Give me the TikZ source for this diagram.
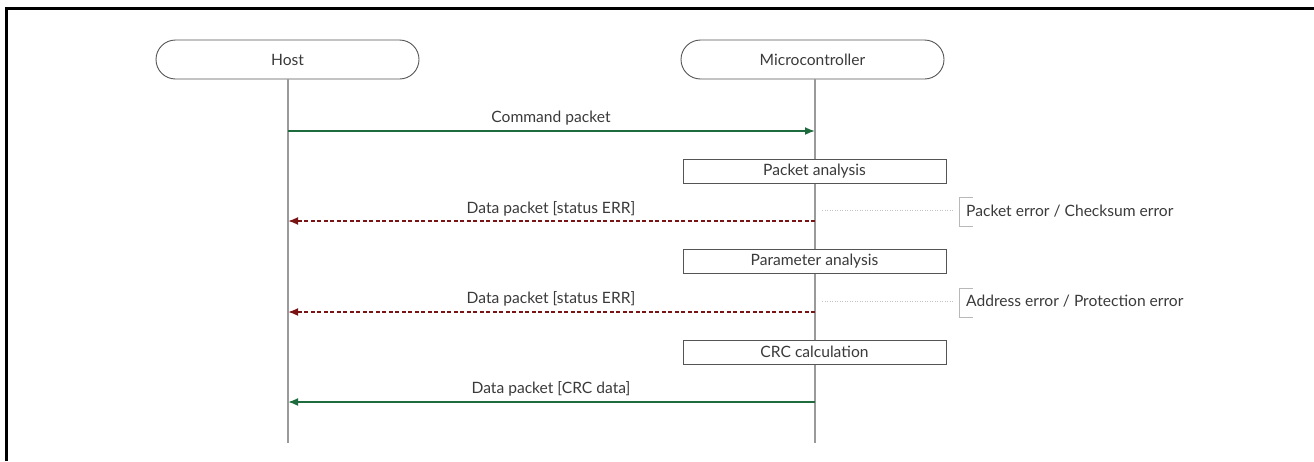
\documentclass[tikz,border=0pt]{standalone}
\usepackage{fontspec}
\setmainfont{Lato}
\usetikzlibrary{arrows.meta,calc}
\definecolor{okgreen}{HTML}{1E6B3E}
\definecolor{errred}{HTML}{7A1414}
\definecolor{txt}{HTML}{3A3A3A}
\definecolor{life}{HTML}{9A9A9A}
\definecolor{boxline}{HTML}{555555}
\tikzset{
  basefont/.style={font=\fontsize{15.6}{18}\selectfont},
  actor/.style={draw=boxline, line width=0.9pt, rounded corners=19.5pt, minimum width=263pt, minimum height=39pt, inner sep=0pt, text=txt, basefont},
  procbox/.style={draw=boxline, line width=0.9pt, minimum width=263pt, minimum height=24pt, inner sep=0pt, text=txt, basefont},
  lifeline/.style={draw=life, line width=1.2pt},
  okmsg/.style={draw=okgreen, line width=1.8pt, -{Latex[length=10pt,width=8pt]}},
  errmsg/.style={draw=errred, line width=1.8pt, dash pattern=on 4pt off 2.5pt, -{Latex[length=10pt,width=8pt]}},
  msglabel/.style={text=txt, basefont, inner sep=0pt},
  note/.style={text=txt, basefont, inner sep=0pt, anchor=west},
  guide/.style={draw=life!60, line width=0.5pt, dotted},
  bracket/.style={draw=life!70, line width=0.8pt}
}
\begin{document}
\begin{tikzpicture}[x=1pt,y=-1pt]
\useasboundingbox (0,0) rectangle (1314,461);
% frame
\draw[line width=2.5pt] (6.5,461) -- (6.5,8.5) -- (1314,8.5);

% actors
\node[actor] (host) at (287.5,59.5) {Host};
\node[actor] (mcu) at (812.5,59.5) {Microcontroller};

% lifelines
\coordinate (hostend) at (288,443);
\coordinate (mcuend) at (815,443);
\draw[lifeline] (host.south) ++(0.5,0) -- (hostend);
\draw[lifeline] (mcu.south) ++(2.5,0) -- (mcuend);

% process boxes
\node[procbox, fill=white] (pa) at (814.5,171) {Packet analysis};
\node[procbox, fill=white] (para) at (814.5,261) {Parameter analysis};
\node[procbox, fill=white] (crc) at (814.5,352) {CRC calculation};

% messages
\coordinate (h1) at (288,131); \coordinate (m1) at (815,131);
\draw[okmsg] (h1) -- (m1);
\node[msglabel] (l1) at (551,118) {Command packet};

\coordinate (h2) at (288,221); \coordinate (m2) at (815,221);
\draw[errmsg] (m2) -- (h2);
\node[msglabel] (l2) at (551,209) {Data packet [status ERR]};

\coordinate (h3) at (288,312); \coordinate (m3) at (815,312);
\draw[errmsg] (m3) -- (h3);
\node[msglabel] (l3) at (551,299) {Data packet [status ERR]};

\coordinate (h4) at (288,402); \coordinate (m4) at (815,402);
\draw[okmsg] (m4) -- (h4);
\node[msglabel] (l4) at (551,389) {Data packet [CRC data]};

% notes
\node[note] (n1) at (966,211) {Packet error / Checksum error};
\coordinate (g1) at (822,210);
\draw[guide] (g1) -- (953,210);
\draw[bracket] (973,197.5) -- (959.5,197.5) -- (959.5,226.5) -- (973,226.5);

\node[note] (n2) at (966,301) {Address error / Protection error};
\coordinate (g2) at (822,301);
\draw[guide] (g2) -- (953,301);
\draw[bracket] (973,288.5) -- (959.5,288.5) -- (959.5,317.5) -- (973,317.5);
\end{tikzpicture}
\end{document}
